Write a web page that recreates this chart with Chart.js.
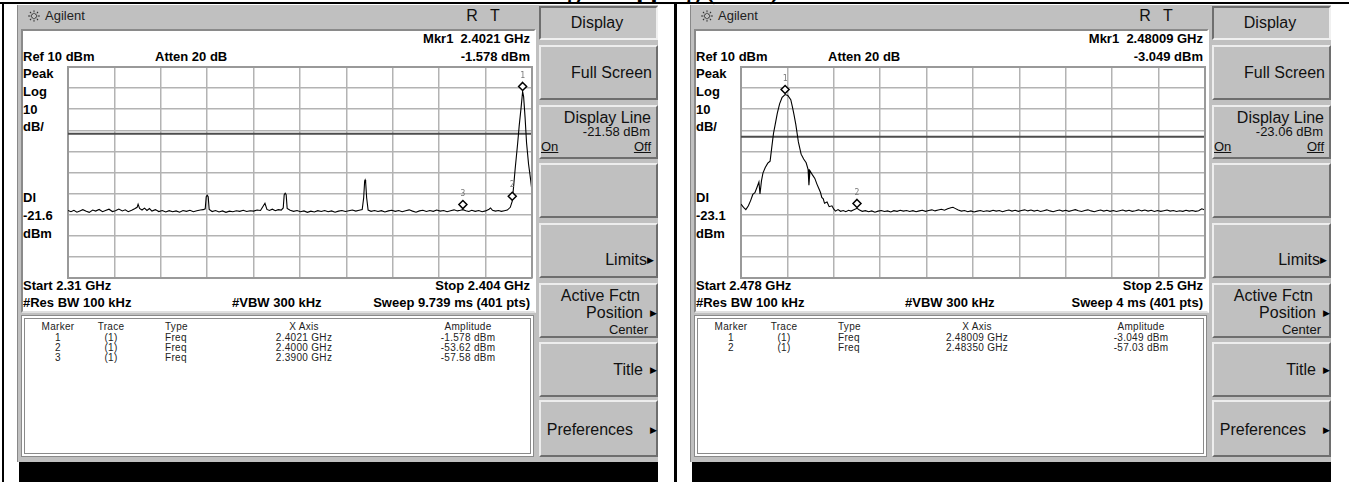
<!DOCTYPE html>
<html>
<head>
<meta charset="utf-8">
<script src="https://cdn.jsdelivr.net/npm/chart.js@4.4.1/dist/chart.umd.min.js"></script>
<style>
  body { margin: 0; width: 1349px; height: 482px; background: #fff; position: relative; overflow: hidden;
         font-family: "Liberation Sans", Arial, sans-serif; }
  .a { position: absolute; white-space: nowrap; }
  .box { position: absolute; box-sizing: border-box; }
  .b { font-weight: bold; font-size: 13px; color: #000; line-height: 16px; }
  .t { font-size: 10px; color: #222; line-height: 11px; letter-spacing: 0.3px; }
  .k { font-size: 16px; color: #111; line-height: 18px; }
  .ks { font-size: 13px; color: #111; line-height: 14px; }
  .ag { font-size: 13px; color: #222; line-height: 16px; }
  .key { background: #c0c0c0; border: 2px solid; border-color: #ededed #6e6e6e #6e6e6e #ededed; }
  .tri { font-size: 9px; color: #000; line-height: 10px; }
  canvas { position: absolute; }
</style>
</head>
<body>
<div class="a" style="left:470px;top:-24px;font:bold 26px 'Liberation Serif',serif;color:#000">Band Edge Mapping (Peak)</div>
<div id="root"></div>

<script>
  // ---- data read off the two analyzer screens ----
  // left screen: 2.31 - 2.404 GHz, [GHz, dBm]
  const leftTrace = [
    [2.3100,-58.0],[2.3106,-58.6],[2.3112,-57.9],[2.3118,-58.8],[2.3124,-58.2],[2.3130,-57.6],[2.3137,-58.4],
    [2.3143,-58.9],[2.3150,-57.8],[2.3156,-58.3],[2.3163,-57.5],[2.3170,-58.6],[2.3176,-58.0],[2.3183,-57.4],
    [2.3190,-58.5],[2.3196,-58.1],[2.3203,-57.3],[2.3210,-58.2],[2.3216,-57.7],[2.3222,-58.6],[2.3229,-57.9],
    [2.3235,-57.2],[2.3240,-56.5],[2.3242,-55.0],[2.3245,-57.0],[2.3250,-57.8],[2.3255,-56.9],[2.3260,-58.0],
    [2.3265,-57.1],[2.3270,-58.3],[2.3277,-57.6],[2.3284,-58.5],[2.3291,-58.0],[2.3298,-58.7],[2.3305,-58.1],
    [2.3312,-58.6],[2.3319,-58.2],[2.3326,-58.8],[2.3333,-58.0],[2.3340,-58.4],[2.3347,-57.9],[2.3354,-58.6],
    [2.3361,-58.1],[2.3368,-57.8],[2.3374,-57.6],[2.3378,-57.2],[2.3380,-51.5],[2.3382,-50.8],[2.3384,-51.5],
    [2.3386,-57.5],[2.3392,-58.5],[2.3399,-58.0],[2.3406,-58.7],[2.3413,-58.2],[2.3420,-58.9],[2.3427,-58.3],
    [2.3434,-58.6],[2.3441,-58.1],[2.3448,-58.4],[2.3455,-57.9],[2.3462,-58.5],[2.3469,-58.1],[2.3476,-58.3],
    [2.3483,-57.8],[2.3490,-58.0],[2.3494,-56.5],[2.3499,-54.6],[2.3503,-57.5],[2.3508,-58.0],[2.3514,-57.4],
    [2.3520,-58.1],[2.3526,-57.6],[2.3532,-57.8],[2.3536,-56.8],[2.3538,-50.5],[2.3540,-49.8],[2.3542,-50.5],
    [2.3544,-57.0],[2.3550,-57.9],[2.3557,-58.4],[2.3564,-58.0],[2.3571,-58.6],[2.3578,-58.2],[2.3585,-58.9],
    [2.3592,-58.3],[2.3599,-58.7],[2.3606,-58.1],[2.3613,-58.5],[2.3620,-58.0],[2.3627,-58.6],[2.3634,-58.2],
    [2.3641,-58.8],[2.3648,-58.3],[2.3655,-58.0],[2.3662,-58.5],[2.3669,-58.1],[2.3676,-57.8],[2.3683,-58.3],
    [2.3690,-57.9],[2.3696,-57.6],[2.3699,-52.0],[2.3701,-44.0],[2.3702,-43.5],[2.3703,-44.5],[2.3705,-52.0],
    [2.3708,-57.8],[2.3714,-58.4],[2.3721,-58.0],[2.3728,-58.5],[2.3735,-58.1],[2.3742,-58.7],[2.3749,-58.2],
    [2.3756,-57.9],[2.3763,-58.4],[2.3770,-58.0],[2.3777,-58.6],[2.3784,-58.1],[2.3791,-57.7],[2.3798,-58.3],
    [2.3805,-58.8],[2.3812,-58.2],[2.3819,-57.9],[2.3826,-58.5],[2.3833,-58.0],[2.3840,-58.4],[2.3847,-57.8],
    [2.3854,-58.3],[2.3861,-58.0],[2.3868,-58.6],[2.3875,-58.1],[2.3882,-57.7],[2.3889,-58.2],[2.3895,-57.9],
    [2.3900,-57.6],[2.3906,-58.1],[2.3912,-58.5],[2.3918,-57.9],[2.3925,-58.4],[2.3932,-58.0],[2.3939,-58.6],
    [2.3946,-58.2],[2.3953,-57.4],[2.3956,-56.8],[2.3960,-57.9],[2.3966,-58.3],[2.3972,-58.0],[2.3978,-58.4],
    [2.3984,-58.1],[2.3990,-57.8],[2.3996,-56.5],[2.4000,-53.6],[2.4003,-46.0],[2.4006,-38.0],[2.4011,-26.0],
    [2.4014,-18.0],[2.4018,-9.0],[2.4021,-1.6],[2.4023,-4.0],[2.4026,-14.0],[2.4029,-26.0],[2.4033,-36.0],
    [2.4037,-43.0],[2.4040,-49.0]
  ];

  // right screen: 2.478 - 2.5 GHz, [GHz, dBm]
  const rightTrace = [
    [2.47800,-55.0],[2.47812,-56.5],[2.47823,-57.6],[2.47835,-55.8],[2.47846,-53.2],[2.47856,-50.4],
    [2.47866,-49.6],[2.47876,-47.0],[2.47885,-44.5],[2.47890,-50.2],[2.47897,-44.0],[2.47904,-40.3],
    [2.47915,-37.6],[2.47927,-35.6],[2.47938,-34.6],[2.47946,-28.0],[2.47954,-21.5],[2.47962,-17.3],
    [2.47972,-12.0],[2.47983,-7.5],[2.47995,-4.4],[2.48009,-3.05],[2.48022,-3.5],[2.48036,-5.5],
    [2.48044,-9.0],[2.48051,-12.5],[2.48060,-17.3],[2.48072,-25.5],[2.48085,-31.3],[2.48097,-33.6],
    [2.48109,-35.4],[2.48118,-38.5],[2.48122,-46.0],[2.48127,-39.2],[2.48138,-41.0],[2.48150,-42.8],
    [2.48160,-45.5],[2.48170,-47.8],[2.48177,-49.5],[2.48183,-51.8],[2.48190,-52.5],[2.48196,-54.6],
    [2.48208,-54.0],[2.48218,-56.2],[2.48231,-55.8],[2.48240,-57.4],[2.48248,-58.3],[2.48260,-57.6],
    [2.48272,-58.4],[2.48285,-58.0],[2.48297,-58.6],[2.48310,-57.9],[2.48322,-58.3],[2.48335,-57.7],
    [2.48350,-57.0],[2.48362,-57.8],[2.48375,-58.4],[2.48390,-58.1],[2.48405,-58.6],[2.48420,-58.2],
    [2.48435,-58.8],[2.48450,-58.3],[2.48465,-58.0],[2.48480,-58.5],[2.48495,-58.2],[2.48510,-58.7],
    [2.48525,-58.1],[2.48540,-58.4],[2.48555,-57.9],[2.48570,-58.3],[2.48585,-58.0],[2.48600,-58.5],
    [2.48615,-58.1],[2.48630,-58.6],[2.48645,-58.2],[2.48660,-57.9],[2.48675,-58.4],[2.48690,-58.0],
    [2.48705,-57.7],[2.48720,-58.2],[2.48735,-57.8],[2.48750,-57.4],[2.48765,-57.9],[2.48780,-57.2],
    [2.48795,-56.7],[2.48805,-56.5],[2.48815,-57.0],[2.48830,-57.8],[2.48845,-58.3],[2.48860,-58.0],
    [2.48875,-58.6],[2.48890,-58.2],[2.48905,-58.7],[2.48920,-58.3],[2.48935,-58.0],[2.48950,-58.5],
    [2.48965,-58.1],[2.48980,-58.4],[2.48995,-57.9],[2.49010,-58.3],[2.49025,-58.0],[2.49040,-58.6],
    [2.49055,-58.1],[2.49070,-57.8],[2.49085,-58.3],[2.49100,-57.9],[2.49115,-58.4],[2.49130,-58.0],
    [2.49145,-57.7],[2.49160,-58.2],[2.49175,-57.8],[2.49190,-58.3],[2.49205,-57.9],[2.49220,-58.5],
    [2.49235,-58.1],[2.49250,-57.7],[2.49265,-58.2],[2.49280,-58.6],[2.49295,-58.1],[2.49310,-57.8],
    [2.49325,-58.3],[2.49340,-57.9],[2.49355,-58.4],[2.49370,-58.0],[2.49385,-57.6],[2.49400,-58.1],
    [2.49415,-58.5],[2.49430,-58.0],[2.49445,-57.7],[2.49460,-58.2],[2.49475,-58.6],[2.49490,-58.1],
    [2.49505,-57.8],[2.49520,-58.3],[2.49535,-57.9],[2.49550,-58.4],[2.49565,-58.0],[2.49580,-58.5],
    [2.49595,-58.1],[2.49610,-57.8],[2.49625,-58.3],[2.49640,-57.9],[2.49655,-58.4],[2.49670,-58.1],
    [2.49685,-57.7],[2.49700,-58.2],[2.49715,-57.8],[2.49730,-58.3],[2.49745,-57.9],[2.49760,-58.5],
    [2.49775,-58.0],[2.49790,-58.4],[2.49805,-58.1],[2.49820,-57.8],[2.49835,-58.3],[2.49850,-58.0],
    [2.49865,-58.5],[2.49880,-58.1],[2.49895,-58.4],[2.49910,-57.9],[2.49925,-58.3],[2.49940,-58.0],
    [2.49955,-58.4],[2.49970,-58.1],[2.49985,-57.2],[2.50000,-57.8]
  ];

  // vertical grid (10 divisions per screen)
  const leftGridFreqs  = [2.31, 2.3194, 2.3288, 2.3382, 2.3476, 2.357, 2.3664, 2.3758, 2.3852, 2.3946, 2.404];
  const rightGridFreqs = [2.478, 2.4802, 2.4824, 2.4846, 2.4868, 2.489, 2.4912, 2.4934, 2.4956, 2.4978, 2.5];
  const refLevel = 10, bottomLevel = -90;   // Ref 10 dBm, 10 dB/div

  const leftDisplayLine = -21.58;
  const rightDisplayLine = -23.06;

  // markers plotted on the trace
  const leftMarkerFreqs = [2.4021, 2.4000, 2.3900];
  const leftMarkerAmps  = [-1.578, -53.62, -57.58];
  const rightMarkerFreqs = [2.48009, 2.48350];
  const rightMarkerAmps  = [-3.049, -57.03];

  // marker tables
  const tableHeader = ["Marker", "Trace", "Type", "X Axis", "Amplitude"];
  const leftTable = [
    ["1", "(1)", "Freq", "2.4021 GHz", "-1.578 dBm"],
    ["2", "(1)", "Freq", "2.4000 GHz", "-53.62 dBm"],
    ["3", "(1)", "Freq", "2.3900 GHz", "-57.58 dBm"]
  ];
  const rightTable = [
    ["1", "(1)", "Freq", "2.48009 GHz", "-3.049 dBm"],
    ["2", "(1)", "Freq", "2.48350 GHz", "-57.03 dBm"]
  ];

  const screens = [
    { ox: 0, id: "left", mkr: "Mkr1&nbsp; 2.4021 GHz", mkrAmp: "-1.578 dBm", dl: "-21.6",
      start: "Start 2.31 GHz", stop: "Stop 2.404 GHz", sweep: "Sweep 9.739 ms (401 pts)",
      dlKey: "-21.58 dBm", table: leftTable },
    { ox: 673, id: "right", mkr: "Mkr1&nbsp; 2.48009 GHz", mkrAmp: "-3.049 dBm", dl: "-23.1",
      start: "Start 2.478 GHz", stop: "Stop 2.5 GHz", sweep: "Sweep 4 ms (401 pts)",
      dlKey: "-23.06 dBm", table: rightTable }
  ];

  // ---- page furniture ----
  const put = (x, y, text, cls, align) => {
    const pos = align === "r" ? `right:${1349 - x}px;` : `left:${x}px;`;
    const tr = align === "c" ? "translate(-50%,-50%)" : "translateY(-50%)";
    return `<div class="a ${cls}" style="${pos}top:${y}px;transform:${tr}">${text}</div>`;
  };
  const rect = (x, y, w, h, style) =>
    `<div class="box" style="left:${x}px;top:${y}px;width:${w}px;height:${h}px;${style}"></div>`;

  const logo = (x, y) => {
    let s = `<svg class="a" style="left:${x}px;top:${y}px" width="14" height="14" viewBox="-7 -7 14 14">`;
    for (let i = 0; i < 8; i++) {
      const a = i * Math.PI / 4;
      s += `<line x1="${(2 * Math.cos(a)).toFixed(2)}" y1="${(2 * Math.sin(a)).toFixed(2)}" x2="${(6 * Math.cos(a)).toFixed(2)}" y2="${(6 * Math.sin(a)).toFixed(2)}" stroke="#333" stroke-width="1.3" stroke-dasharray="1.3 1"/>`;
    }
    return s + "</svg>";
  };

  const buildScreen = (s) => {
    const o = s.ox;
    let h = "";
    h += rect(o + 17, 5, 641, 457, "background:#c0c0c0;border-left:1px solid #888");
    // title bar
    h += logo(o + 27, 9);
    h += put(o + 45, 16, "Agilent", "ag", "l");
    h += put(o + 472, 16, "R", "k", "c") + put(o + 495, 16, "T", "k", "c");
    // upper screen and marker table boxes
    h += rect(o + 21, 29, 515, 284, "background:#fff;border:2px solid;border-color:#8a8a8a #fff #e0e0e0 #8a8a8a");
    h += rect(o + 21, 315, 513, 142, "background:#fff;border:4px double #8a8a8a");
    h += rect(o + 19, 462, 639, 20, "background:#000");
    // bold annotation text
    h += put(o + 530, 39, s.mkr, "b", "r");
    h += put(o + 23, 57, "Ref 10 dBm", "b", "l") + put(o + 155, 57, "Atten 20 dB", "b", "l");
    h += put(o + 530, 57, s.mkrAmp, "b", "r");
    h += put(o + 23, 74, "Peak", "b", "l") + put(o + 23, 92, "Log", "b", "l");
    h += put(o + 23, 110, "10", "b", "l") + put(o + 23, 127, "dB/", "b", "l");
    h += put(o + 23, 198, "Dl", "b", "l") + put(o + 23, 216, s.dl, "b", "l") + put(o + 23, 234, "dBm", "b", "l");
    h += put(o + 23, 286, s.start, "b", "l") + put(o + 530, 286, s.stop, "b", "r");
    h += put(o + 23, 303, "#Res BW 100 kHz", "b", "l") + put(o + 232, 303, "#VBW 300 kHz", "b", "l");
    h += put(o + 530, 303, s.sweep, "b", "r");
    // marker table
    const cols = [[o + 58, "c"], [o + 111, "c"], [o + 165, "l"], [o + 304, "c"], [o + 468, "c"]];
    tableHeader.forEach((t, i) => { h += put(cols[i][0], 326, t, "t", cols[i][1]); });
    s.table.forEach((row, r) => {
      row.forEach((t, i) => { h += put(cols[i][0], 337 + r * 10.2, t, "t", cols[i][1]); });
    });
    // soft keys
    const keys = [[45, 100], [105, 159], [163, 218], [223, 278], [283, 338], [342, 397], [400, 457]];
    h += rect(o + 539, 6, 119, 34, "background:#c4c4c4;border:2px solid;border-color:#6e6e6e #f0f0f0 #f0f0f0 #6e6e6e");
    keys.forEach(k => { h += `<div class="box key" style="left:${o + 539}px;top:${k[0]}px;width:119px;height:${k[1] - k[0]}px"></div>`; });
    h += put(o + 597, 23, "Display", "k", "c");
    h += put(o + 652, 73, "Full Screen", "k", "r");
    h += put(o + 651, 118, "Display Line", "k", "r");
    h += put(o + 650, 132, s.dlKey, "ks", "r");
    h += put(o + 541, 147, "<u>On</u>", "ks", "l") + put(o + 651, 147, "<u>Off</u>", "ks", "r");
    h += put(o + 647, 260, "Limits", "k", "r") + put(o + 650, 260, "&#9654;", "tri", "c");
    h += put(o + 640, 296, "Active Fctn", "k", "r");
    h += put(o + 643, 313, "Position", "k", "r") + put(o + 653, 313, "&#9654;", "tri", "c");
    h += put(o + 648, 330, "Center", "ks", "r");
    h += put(o + 643, 370, "Title", "k", "r") + put(o + 653, 370, "&#9654;", "tri", "c");
    h += put(o + 633, 430, "Preferences", "k", "r") + put(o + 653, 430, "&#9654;", "tri", "c");
    // chart canvas: plot area 464 x 211 at (68, 67)
    h += `<canvas id="${s.id}" width="466" height="213" style="left:${o + 67}px;top:66px"></canvas>`;
    return h;
  };

  let html = "";
  html += rect(0, 2, 1349, 2, "background:#000");
  html += rect(2, 2, 2, 480, "background:#000");
  html += rect(674, 2, 3, 480, "background:#000");
  screens.forEach(s => { html += buildScreen(s); });
  document.getElementById("root").innerHTML = html;

  // draws the marker diamonds and their numbers from the scales
  const markerPlugin = (freqs, amps) => ({
    id: "markers",
    afterDatasetsDraw(chart) {
      const ctx = chart.ctx, xs = chart.scales.x, ys = chart.scales.y;
      ctx.save();
      freqs.forEach((f, i) => {
        const px = xs.getPixelForValue(f), py = ys.getPixelForValue(amps[i]);
        const cy = py - 5;
        ctx.beginPath();
        ctx.moveTo(px, cy - 4); ctx.lineTo(px + 4, cy); ctx.lineTo(px, cy + 4); ctx.lineTo(px - 4, cy);
        ctx.closePath();
        ctx.fillStyle = "#fff"; ctx.fill();
        ctx.lineWidth = 1.5; ctx.strokeStyle = "#000"; ctx.stroke();
        ctx.fillStyle = "#777"; ctx.font = "8px 'DejaVu Sans Mono', monospace";
        ctx.textAlign = "center"; ctx.textBaseline = "middle";
        ctx.fillText(String(i + 1), px, py - 16);
      });
      ctx.restore();
    }
  });

  const createChart = (id, trace, gridFreqs, displayLine, mFreqs, mAmps) => {
    const ctx = document.getElementById(id).getContext("2d");
    const first = gridFreqs[0], last = gridFreqs[gridFreqs.length - 1];
    return new Chart(ctx, {
      type: "line",
      data: {
        datasets: [
          { data: trace.map(p => ({ x: p[0], y: p[1] })), borderColor: "#000", borderWidth: 1.1,
            pointRadius: 0, tension: 0 },
          { data: [{ x: first, y: displayLine }, { x: last, y: displayLine }], borderColor: "#4d4d4d",
            borderWidth: 2, pointRadius: 0 }
        ]
      },
      options: {
        responsive: false, animation: false, events: [],
        layout: { padding: 1 },
        plugins: { legend: { display: false }, tooltip: { enabled: false } },
        scales: {
          x: {
            type: "linear", min: first, max: last,
            afterBuildTicks: (sc) => { sc.ticks = gridFreqs.map(v => ({ value: v })); },
            afterFit: (sc) => { sc.height = 0; },
            ticks: { display: false },
            grid: { color: "#b3b3b3", lineWidth: 1.5, drawTicks: false },
            border: { color: "#999", width: 2 }
          },
          y: {
            min: bottomLevel, max: refLevel,
            ticks: { display: false, stepSize: 10 },
            afterFit: (sc) => { sc.width = 0; },
            grid: { color: "#b3b3b3", lineWidth: 1.5, drawTicks: false },
            border: { color: "#999", width: 2 }
          }
        }
      },
      plugins: [markerPlugin(mFreqs, mAmps), {
        id: "frameEdges",
        afterDraw(chart) {
          const a = chart.chartArea, c = chart.ctx;
          c.save(); c.strokeStyle = "#999"; c.lineWidth = 2;
          c.beginPath(); c.moveTo(a.left, a.top); c.lineTo(a.right, a.top); c.lineTo(a.right, a.bottom); c.stroke();
          c.restore();
        }
      }]
    });
  };

  createChart("left", leftTrace, leftGridFreqs, leftDisplayLine, leftMarkerFreqs, leftMarkerAmps);
  createChart("right", rightTrace, rightGridFreqs, rightDisplayLine, rightMarkerFreqs, rightMarkerAmps);
</script>
</body>
</html>
